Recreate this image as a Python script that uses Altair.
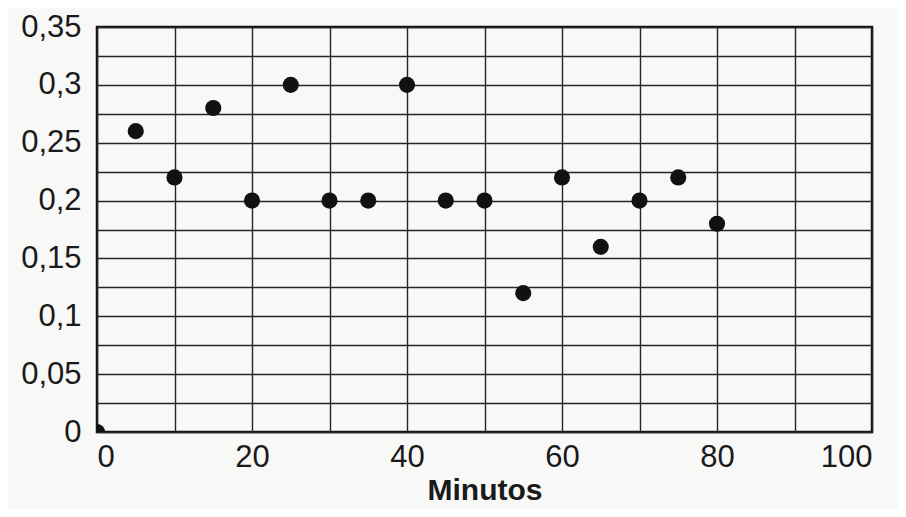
import altair as alt
import pandas as pd

minutos = [0, 5, 10, 15, 20, 25, 30, 35, 40, 45, 50, 55, 60, 65, 70, 75, 80]
valores = [0.0, 0.26, 0.22, 0.28, 0.20, 0.30, 0.20, 0.20, 0.30, 0.20, 0.20, 0.12, 0.22, 0.16, 0.20, 0.22, 0.18]

x_grid = [0, 10, 20, 30, 40, 50, 60, 70, 80, 90, 100]
y_grid = [0, 0.025, 0.05, 0.075, 0.1, 0.125, 0.15, 0.175, 0.2, 0.225, 0.25, 0.275, 0.3, 0.325, 0.35]

df = pd.DataFrame({"Minutos": minutos, "Valor": valores})

FONT = "Liberation Sans"

chart = alt.Chart(df).mark_circle(
    size=260, color="#111111", opacity=1, clip=True
).encode(
    x=alt.X(
        "Minutos:Q",
        scale=alt.Scale(domain=[0, 100], nice=False, zero=True),
        axis=alt.Axis(
            title="Minutos",
            values=x_grid,
            labelExpr="datum.value % 20 == 0 ? datum.label : ''",
            grid=True,
            ticks=False,
            domain=False,
            labelPadding=10,
            titlePadding=3,
        ),
    ),
    y=alt.Y(
        "Valor:Q",
        scale=alt.Scale(domain=[0, 0.35], nice=False),
        axis=alt.Axis(
            title=None,
            values=y_grid,
            labelExpr="round(datum.value*1000) % 50 == 0 ? replace(format(datum.value, '.2~f'), '.', ',') : ''",
            grid=True,
            ticks=False,
            domain=False,
            labelPadding=16,
        ),
    ),
).properties(
    width=775,
    height=405,
    background="#f8f8f7",
    padding={"left": 89, "top": 19, "right": 26, "bottom": 77},
    autosize=alt.AutoSizeParams(type="none"),
).configure_view(
    stroke="#111111",
    strokeWidth=2.5,
    fill="#f8f8f7",
).configure_axis(
    gridColor="#262626",
    gridWidth=1.4,
    gridOpacity=1,
    labelFont=FONT,
    labelFontSize=31,
    labelColor="#1a1a1a",
    titleFont=FONT,
    titleFontSize=30,
    titleFontWeight="bold",
    titleColor="#1a1a1a",
    labelOverlap=False,
)

chart.save("out.html", embed_options={"renderer": "svg", "actions": False})
